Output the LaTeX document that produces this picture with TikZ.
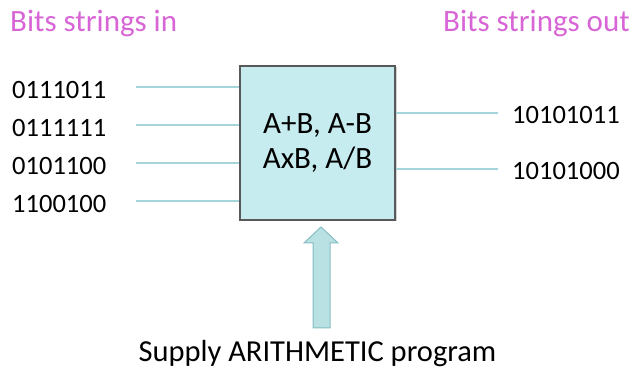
\documentclass[tikz,border=0pt]{standalone}
\usepackage{fontspec}
\setmainfont{Carlito}
\usetikzlibrary{positioning,shadows}

\definecolor{titlemag}{HTML}{D865D6}
\definecolor{boxfill}{HTML}{C6ECEF}
\definecolor{wirecol}{HTML}{A3D5DA}
\definecolor{arrowfill}{HTML}{B9E1E4}
\definecolor{arrowedge}{HTML}{86BEC3}

\tikzset{
  bits/.style={anchor=west,font=\fontsize{26.5}{30}\selectfont,inner sep=0pt},
  title/.style={anchor=west,font=\fontsize{31}{34}\selectfont,text=titlemag,inner sep=0pt},
  wire/.style={draw=wirecol,line width=2pt},
  alu/.style={draw=black!65,line width=1.6pt,fill=boxfill,minimum width=155pt,minimum height=154pt,
    drop shadow={shadow xshift=1.5pt,shadow yshift=-1.5pt,fill=black!35},
    align=center,font=\fontsize{31}{35}\selectfont}
}

\begin{document}
\begin{tikzpicture}[x=1pt,y=1pt]
\useasboundingbox (0,0) rectangle (634,374);

%---------------------------------
% TITULOS
%---------------------------------
\node[title] (tin) at (10,350) {Bits strings in};
\node[title] (tout) at (443,350) {Bits strings out};

%---------------------------------
% CAJA ARITMETICA
%---------------------------------
\node[alu] (box) at (317.5,231) {A+B, A-B\\AxB, A/B};

%---------------------------------
% ENTRADAS
%---------------------------------
\node[bits] (in1) at (12,284) {0111011};
\node[bits] (in2) at (12,246) {0111111};
\node[bits] (in3) at (12,208) {0101100};
\node[bits] (in4) at (12,170) {1100100};

\coordinate (w1) at (136,287);
\coordinate (w2) at (136,249);
\coordinate (w3) at (136,211);
\coordinate (w4) at (136,173);

\draw[wire] (w1) -- (box.west |- w1);
\draw[wire] (w2) -- (box.west |- w2);
\draw[wire] (w3) -- (box.west |- w3);
\draw[wire] (w4) -- (box.west |- w4);

%---------------------------------
% SALIDAS
%---------------------------------
\node[bits] (out1) at (512,259) {10101011};
\node[bits] (out2) at (512,203) {10101000};

\coordinate (v1) at (498,261);
\coordinate (v2) at (498,205);

\draw[wire] (box.east |- v1) -- (v1);
\draw[wire] (box.east |- v2) -- (v2);

%---------------------------------
% PROGRAMA
%---------------------------------
\node[font=\fontsize{30.5}{34}\selectfont,inner sep=0pt] (prog) at (317.5,20) {Supply ARITHMETIC program};

% flecha gruesa hacia la caja
\coordinate (tip) at (321,147);
\draw[fill=arrowfill,draw=arrowedge,line width=1pt,line join=miter]
  (313,46) -- (330,46) -- (330,131) -- (338,131) -- (tip) -- (304,131) -- (313,131) -- cycle;

\end{tikzpicture}
\end{document}
